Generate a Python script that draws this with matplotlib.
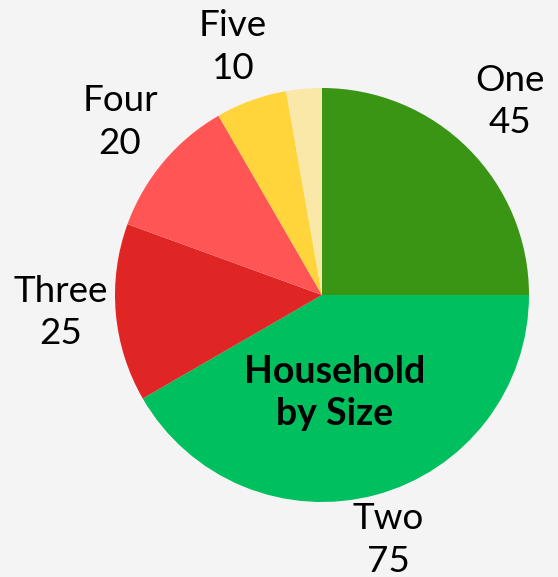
import matplotlib
matplotlib.use("Agg")
import matplotlib.pyplot as plt

categories = ["One", "Two", "Three", "Four", "Five", "Six"]
values = [45, 75, 25, 20, 10, 5]
show_label = [True, True, True, True, True, False]
colors = ["#3a9514", "#00bf5f", "#e02525", "#ff5555", "#ffd53b", "#fae8a8"]
label_pos = [(0.908, 0.935), (0.319, -1.184), (-1.261, -0.085),
             (-0.976, 0.836), (-0.43, 1.198), (0, 0)]
title = "Household\nby Size"

W, H = 558, 577
fig = plt.figure(figsize=(W / 100, H / 100), dpi=100)
fig.patch.set_facecolor("#f4f4f4")
cx, cy, r = 322, 295, 207
ax = fig.add_axes([(cx - r) / W, (H - cy - r) / H, 2 * r / W, 2 * r / H])
ax.set_facecolor("none")
ax.pie(values, colors=colors, startangle=90, counterclock=False, radius=1,
       wedgeprops=dict(linewidth=0))
ax.set_xlim(-1, 1)
ax.set_ylim(-1, 1)
ax.set_aspect("equal")
ax.axis("off")

for cat, v, show, (x, y) in zip(categories, values, show_label, label_pos):
    if show:
        ax.text(x, y, f"{cat}\n{v}", ha="center", va="center", fontsize=26.5,
                family="Lato", linespacing=1.35, clip_on=False)

ax.text(0.063, -0.473, title, ha="center", va="center", fontsize=27,
        family="Lato", fontweight="bold", linespacing=1.3)

fig.savefig("out.png", dpi=100, facecolor=fig.get_facecolor())
